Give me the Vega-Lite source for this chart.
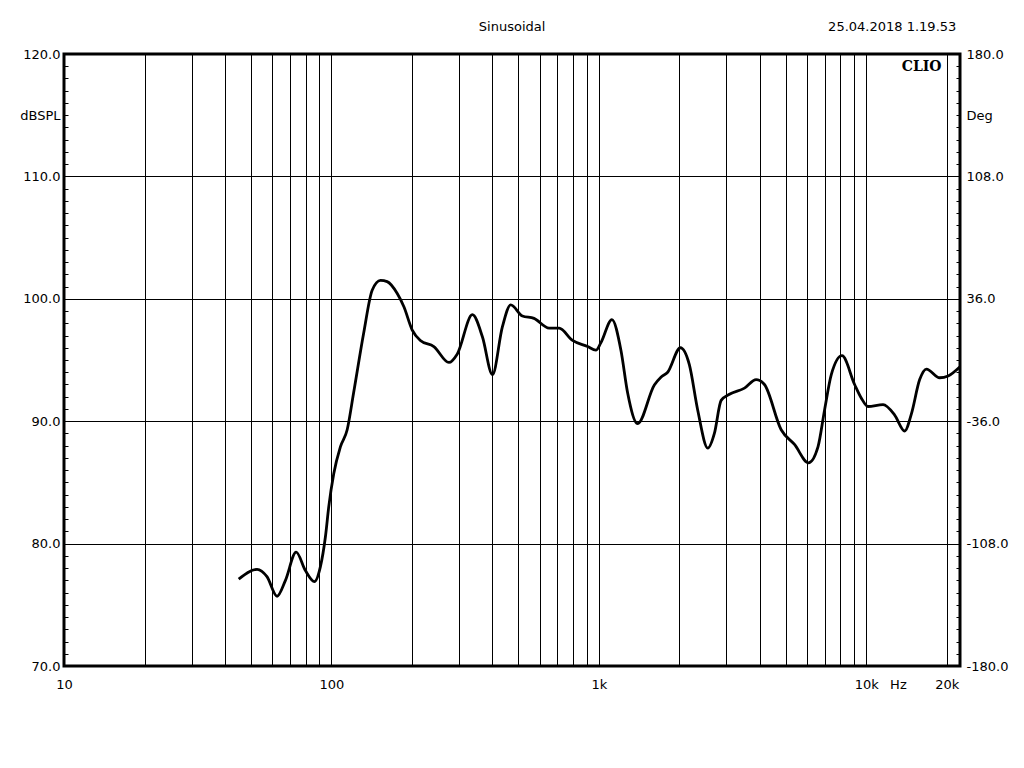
{
  "$schema": "https://vega.github.io/schema/vega-lite/v6.json",
  "width": 896,
  "height": 612,
  "autosize": {"type": "none"},
  "padding": {"left": 64, "top": 54, "right": 64, "bottom": 102},
  "background": "white",
  "config": {
    "view": {"stroke": "black", "strokeWidth": 3},
    "font": "DejaVu Sans",
    "axis": {"labelFont": "DejaVu Sans", "labelFontSize": 13, "labelColor": "black", "labelOverlap": false, "labelFlush": false, "labelBound": false, "title": null}
  },
  "layer": [
    {
      "data": {"values": [
        {"f": 45.0, "db": 77.1}, {"f": 52.7, "db": 77.9}, {"f": 57.4, "db": 77.3}, {"f": 62.6, "db": 75.7},
        {"f": 67.3, "db": 77.0}, {"f": 73.8, "db": 79.3}, {"f": 79.9, "db": 77.8}, {"f": 86.4, "db": 76.9},
        {"f": 90.9, "db": 78.1}, {"f": 95.0, "db": 80.6}, {"f": 97.7, "db": 83.0}, {"f": 102, "db": 85.7},
        {"f": 108, "db": 87.9}, {"f": 114.5, "db": 89.3}, {"f": 121, "db": 92.3}, {"f": 132, "db": 97.2},
        {"f": 142, "db": 100.7}, {"f": 152.6, "db": 101.5}, {"f": 161.6, "db": 101.4}, {"f": 176, "db": 100.45},
        {"f": 186.6, "db": 99.35}, {"f": 200.5, "db": 97.45}, {"f": 215, "db": 96.6}, {"f": 241.5, "db": 96.1},
        {"f": 275, "db": 94.8}, {"f": 295.6, "db": 95.5}, {"f": 336.5, "db": 98.7}, {"f": 366.8, "db": 96.9},
        {"f": 400, "db": 93.8}, {"f": 435.6, "db": 97.7}, {"f": 468, "db": 99.5}, {"f": 517.6, "db": 98.6},
        {"f": 572, "db": 98.4}, {"f": 651.5, "db": 97.6}, {"f": 710, "db": 97.6}, {"f": 797, "db": 96.6},
        {"f": 907, "db": 96.1}, {"f": 974.5, "db": 95.8}, {"f": 1017, "db": 96.4}, {"f": 1119, "db": 98.3},
        {"f": 1209, "db": 95.8}, {"f": 1281, "db": 92.3}, {"f": 1396, "db": 89.8}, {"f": 1612, "db": 92.96},
        {"f": 1706, "db": 93.6}, {"f": 1808, "db": 94.0}, {"f": 2017, "db": 96.0}, {"f": 2180, "db": 94.6},
        {"f": 2342, "db": 90.9}, {"f": 2555, "db": 87.8}, {"f": 2703, "db": 89.0}, {"f": 2865, "db": 91.7},
        {"f": 3077, "db": 92.2}, {"f": 3502, "db": 92.7}, {"f": 3873, "db": 93.4}, {"f": 4160, "db": 93.0},
        {"f": 4804, "db": 89.3}, {"f": 5388, "db": 88.1}, {"f": 6081, "db": 86.6}, {"f": 6595, "db": 87.9},
        {"f": 6978, "db": 90.9}, {"f": 7396, "db": 93.8}, {"f": 8110, "db": 95.35}, {"f": 9040, "db": 93.0},
        {"f": 9572, "db": 91.9}, {"f": 10145, "db": 91.2}, {"f": 11548, "db": 91.35}, {"f": 12765, "db": 90.5},
        {"f": 13913, "db": 89.2}, {"f": 14740, "db": 90.6}, {"f": 15830, "db": 93.4}, {"f": 16775, "db": 94.26},
        {"f": 18815, "db": 93.55}, {"f": 20225, "db": 93.7}, {"f": 22400, "db": 94.45}
      ]},
      "mark": {"type": "line", "color": "black", "strokeWidth": 2.8, "interpolate": "monotone"},
      "encoding": {
        "x": {
          "field": "f", "type": "quantitative",
          "scale": {"type": "log", "domain": [10, 22400], "nice": false},
          "axis": {
            "values": [10, 20, 30, 40, 50, 60, 70, 80, 90, 100, 200, 300, 400, 500, 600, 700, 800, 900, 1000, 2000, 3000, 4000, 5000, 6000, 7000, 8000, 9000, 10000, 20000],
            "labelExpr": "datum.value == 10 ? '10' : datum.value == 100 ? '100' : datum.value == 1000 ? '1k' : datum.value == 10000 ? '10k' : datum.value == 20000 ? '20k' : ''",
            "grid": true, "gridColor": "black", "gridOpacity": 1, "gridWidth": 1,
            "ticks": false, "domain": false, "labelPadding": 12
          }
        },
        "y": {
          "field": "db", "type": "quantitative",
          "scale": {"domain": [70, 120], "nice": false},
          "axis": {
            "orient": "left",
            "values": [70, 71, 72, 73, 74, 75, 76, 77, 78, 79, 80, 81, 82, 83, 84, 85, 86, 87, 88, 89, 90, 91, 92, 93, 94, 95, 96, 97, 98, 99, 100, 101, 102, 103, 104, 105, 106, 107, 108, 109, 110, 111, 112, 113, 114, 115, 116, 117, 118, 119, 120],
            "labelExpr": "datum.value % 10 == 0 ? format(datum.value, '.1f') : datum.value == 115 ? 'dBSPL' : ''",
            "grid": true, "gridColor": "black", "gridWidth": 1,
            "gridOpacity": {"condition": {"test": "datum.value % 10 == 0", "value": 1}, "value": 0},
            "ticks": true, "tickSize": -4, "tickColor": "black", "tickWidth": 1,
            "domain": false, "labelPadding": 8
          }
        }
      }
    },
    {
      "data": {"values": [{}]},
      "mark": {"type": "rule", "opacity": 0},
      "encoding": {
        "y": {
          "datum": 0, "type": "quantitative",
          "scale": {"domain": [-180, 180], "nice": false},
          "axis": {
            "orient": "right",
            "values": [-180, -172.8, -165.6, -158.4, -151.2, -144, -136.8, -129.6, -122.4, -115.2, -108, -100.8, -93.6, -86.4, -79.2, -72, -64.8, -57.6, -50.4, -43.2, -36, -28.8, -21.6, -14.4, -7.2, 0, 7.2, 14.4, 21.6, 28.8, 36, 43.2, 50.4, 57.6, 64.8, 72, 79.2, 86.4, 93.6, 100.8, 108, 115.2, 122.4, 129.6, 136.8, 144, 151.2, 158.4, 165.6, 172.8, 180],
            "labelExpr": "indexof([-180, -108, -36, 36, 108, 180], datum.value) >= 0 ? (datum.value < 0 ? '-' : '') + format(abs(datum.value), '.1f') : datum.value == 144 ? 'Deg' : ''",
            "grid": false, "ticks": true, "tickSize": -4, "tickColor": "black", "tickWidth": 1,
            "domain": false, "labelPadding": 10
          }
        }
      }
    },
    {
      "data": {"values": [{}]},
      "mark": {"type": "text", "text": "CLIO", "font": "DejaVu Serif", "fontWeight": "bold", "fontSize": 14, "align": "right", "baseline": "middle", "color": "black"},
      "encoding": {
        "x": {"datum": 19100, "type": "quantitative"},
        "y": {"datum": 118.9, "type": "quantitative", "scale": {"domain": [70, 120], "nice": false}, "axis": null}
      }
    },
    {
      "data": {"values": [{}]},
      "mark": {"type": "text", "text": "25.04.2018 1.19.53", "font": "DejaVu Sans", "fontSize": 13, "align": "right", "baseline": "middle", "color": "black", "clip": false},
      "encoding": {
        "x": {"datum": 21700, "type": "quantitative"},
        "y": {"datum": 122.2, "type": "quantitative", "scale": {"domain": [70, 120], "nice": false}, "axis": null}
      }
    },
    {
      "data": {"values": [{}]},
      "mark": {"type": "text", "text": "Sinusoidal", "font": "DejaVu Sans", "fontSize": 13, "align": "center", "baseline": "middle", "color": "black", "clip": false},
      "encoding": {
        "x": {"datum": 473.6, "type": "quantitative"},
        "y": {"datum": 122.2, "type": "quantitative", "scale": {"domain": [70, 120], "nice": false}, "axis": null}
      }
    },
    {
      "data": {"values": [{}]},
      "mark": {"type": "text", "text": "Hz", "font": "DejaVu Sans", "fontSize": 13, "align": "center", "baseline": "middle", "color": "black", "clip": false},
      "encoding": {
        "x": {"datum": 13180, "type": "quantitative"},
        "y": {"datum": 68.45, "type": "quantitative", "scale": {"domain": [70, 120], "nice": false}, "axis": null}
      }
    }
  ],
  "resolve": {"scale": {"y": "independent"}, "axis": {"y": "independent"}}
}
